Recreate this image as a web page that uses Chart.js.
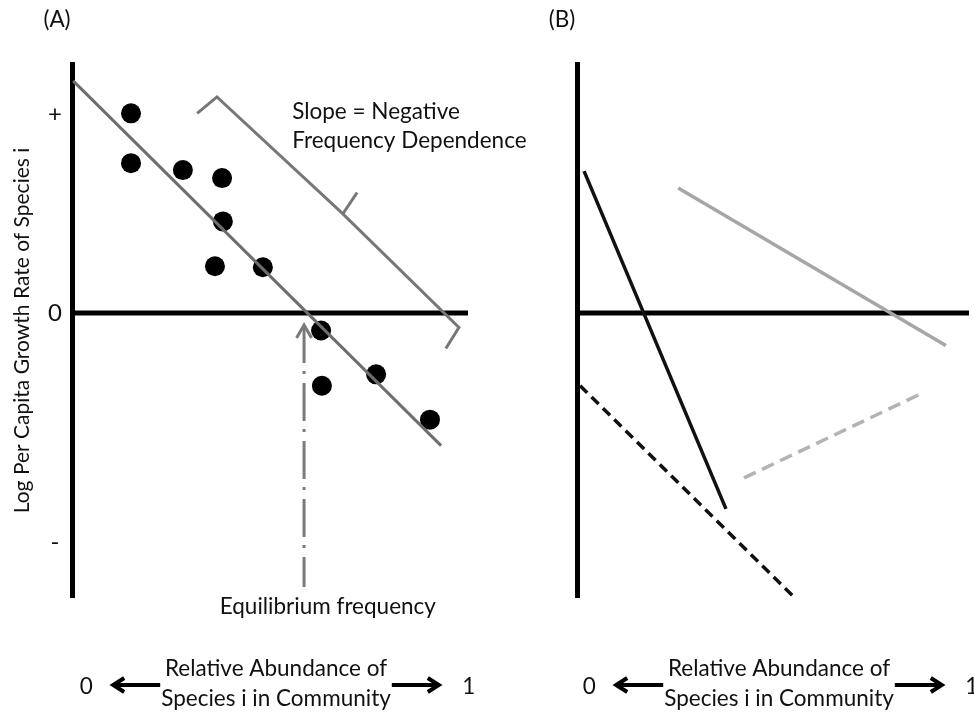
<!DOCTYPE html>
<html>
<head>
<meta charset="utf-8">
<script src="https://cdn.jsdelivr.net/npm/chart.js@4.4.1/dist/chart.umd.min.js"></script>
<style>
  html, body { margin: 0; padding: 0; background: #fff; }
  #wrap { position: relative; width: 974px; height: 714px; }
  #wrap canvas { position: absolute; left: 0; top: 0; }
</style>
</head>
<body>
<div id="wrap">
  <canvas id="chartA" width="974" height="714"></canvas>
  <canvas id="chartB" width="974" height="714"></canvas>
</div>
<script>
// ---- panel A: growth rate of species i against its relative abundance ----
var abundance = [1.49, 1.49, 2.80, 3.79, 3.81, 3.61, 4.82, 6.29, 6.31, 7.68, 9.04];
var growth    = [4.01, 3.01, 2.87, 2.71, 1.84, 0.94, 0.92, -0.35, -1.46, -1.23, -2.14];
var fitX = [0.03, 9.32];
var fitY = [4.66, -2.66];
// bracket along the fitted slope, plus its notch
var braceX = [3.16, 3.66, 6.72, 6.84, 9.77, 9.44];
var braceY = [4.01, 4.34, 2.08, 1.99, -0.29, -0.71];
var notchX = [6.84, 7.20];
var notchY = [1.99, 2.42];
// equilibrium frequency arrow (tip first so the dash pattern starts there)
var equilX = [5.86, 5.86];
var equilY = [-0.24, -5.50];
var headX = [5.67, 5.86, 6.05];
var headY = [-0.50, -0.24, -0.50];

// ---- panel B: four hypothetical species ----
var steepX = [0.18, 3.80],    steepY = [2.85, -3.93];
var shallowX = [2.58, 9.41],  shallowY = [2.51, -0.65];
var weakX = [0.08, 5.51],     weakY = [-1.46, -5.68];
var risingX = [4.26, 8.72],   risingY = [-3.31, -1.64];

// axes
var zeroX = [0, 10], zeroY = [0, 0];
var yTickValues = [4, 0, -4.6];
var yTickLabels = ['+', '0', '-'];
var xEndLabels = ['0', '1'];
var xTitle = ['Relative Abundance of', 'Species i in Community'];
var yTitle = 'Log Per Capita Growth Rate of Species i';

var FONT = 'Lato';
var TEXT_SIZE = 22.5;
Chart.defaults.font.family = FONT;
Chart.defaults.color = '#111';

function pts(xs, ys) {
  return xs.map(function(x, i) { return {x: x, y: ys[i]}; });
}

function line(data, color, width, dash) {
  return {
    data: data, showLine: true, fill: false, tension: 0,
    borderColor: color, borderWidth: width, borderDash: dash || [],
    borderJoinStyle: 'miter', pointRadius: 0
  };
}

// panel letter, free labels, and the "0 <- x title -> 1" group under each panel
var notes = {
  id: 'notes',
  afterDraw: function(chart, args, opts) {
    var ctx = chart.ctx, xs = chart.scales.x, ys = chart.scales.y, area = chart.chartArea;
    ctx.save();
    ctx.fillStyle = '#111';
    ctx.textBaseline = 'middle';
    ctx.font = TEXT_SIZE + 'px ' + FONT;

    ctx.textAlign = 'center';
    ctx.fillText(opts.letter, area.left - 15, 20);

    (opts.labels || []).forEach(function(l) {
      ctx.textAlign = l.align;
      ctx.fillText(l.text, xs.getPixelForValue(l.x), ys.getPixelForValue(l.y));
    });

    // x title sits a little right of the plot centre, arrows hug it
    var cx = (xs.left + xs.right) / 2 + 6;
    ctx.textAlign = 'center';
    xTitle.forEach(function(t, i) { ctx.fillText(t, cx, xs.bottom - 45 + i * 30); });
    var w = Math.max.apply(null, xTitle.map(function(t) { return ctx.measureText(t).width; }));
    var y = xs.bottom - 29;
    var leftTip = cx - w / 2 - 1 - 47;
    var rightTip = cx + w / 2 + 1 + 47;
    ctx.strokeStyle = '#000';
    ctx.lineWidth = 4;
    ctx.lineJoin = 'miter';
    [[leftTip, 1], [rightTip, -1]].forEach(function(a) {
      var tip = a[0], dir = a[1];
      ctx.beginPath();
      ctx.moveTo(tip + dir * 2, y);
      ctx.lineTo(tip + dir * 47, y);
      ctx.stroke();
      ctx.beginPath();
      ctx.moveTo(tip + dir * 11, y - 7);
      ctx.lineTo(tip, y);
      ctx.lineTo(tip + dir * 11, y + 7);
      ctx.stroke();
    });
    ctx.fillText(xEndLabels[0], leftTip - 27, y + 2);
    ctx.fillText(xEndLabels[1], rightTip + 30, y + 2);
    ctx.restore();
  }
};

function scales(withLabels) {
  return {
    x: {
      type: 'linear', min: 0, max: 10,
      ticks: { display: false },
      grid: { display: false },
      border: { display: false },
      afterFit: function(s) { s.height = 117; }
    },
    y: {
      type: 'linear', min: -5.7, max: 5,
      afterBuildTicks: function(s) {
        s.ticks = yTickValues.map(function(v) { return {value: v}; });
      },
      ticks: {
        display: withLabels, crossAlign: 'center', padding: 10, color: '#111',
        font: { size: 24 },
        callback: function(v) { return yTickLabels[yTickValues.indexOf(v)]; }
      },
      grid: { display: false, drawTicks: false },
      border: { display: true, color: '#000', width: 5 },
      title: { display: withLabels, text: yTitle, color: '#111',
               font: { size: 21 }, padding: { top: 10 } },
      afterFit: function(s) { s.width = 72; }
    }
  };
}

function baseOptions(padding, notesOpts, withLabels) {
  return {
    responsive: false,
    animation: false,
    events: [],
    layout: { padding: padding },
    scales: scales(withLabels),
    plugins: {
      legend: { display: false },
      tooltip: { enabled: false },
      notes: notesOpts
    }
  };
}

new Chart(document.getElementById('chartA'), {
  type: 'scatter',
  data: {
    datasets: [
      line(pts(fitX, fitY), '#6e6e6e', 3),
      { data: pts(abundance, growth), pointRadius: 10, pointBackgroundColor: '#000',
        pointBorderWidth: 0, showLine: false },
      line(pts(braceX, braceY), '#777777', 3),
      line(pts(notchX, notchY), '#777777', 3),
      line(pts(equilX, equilY), '#7a7a7a', 3, [38, 8, 3, 9]),
      line(pts(headX, headY), '#7a7a7a', 3),
      line(pts(zeroX, zeroY), '#000', 5)
    ]
  },
  options: baseOptions({ left: 0, right: 506, top: 64, bottom: 0 }, {
    letter: '(A)',
    labels: [
      { text: 'Slope = Negative', x: 5.56, y: 4.05, align: 'left' },
      { text: 'Frequency Dependence', x: 5.56, y: 3.45, align: 'left' },
      { text: 'Equilibrium frequency', x: 6.46, y: -5.90, align: 'center' }
    ]
  }, true),
  plugins: [notes]
});

new Chart(document.getElementById('chartB'), {
  type: 'scatter',
  data: {
    datasets: [
      line(pts(steepX, steepY), '#111', 3.5),
      line(pts(shallowX, shallowY), '#a6a6a6', 3.5),
      line(pts(weakX, weakY), '#111', 3.5, [10, 6]),
      line(pts(risingX, risingY), '#b3b3b3', 3.5, [13, 7]),
      line(pts(zeroX, zeroY), '#000', 5)
    ]
  },
  options: baseOptions({ left: 505, right: 5, top: 64, bottom: 0 }, {
    letter: '(B)',
    labels: []
  }, false),
  plugins: [notes]
});
</script>
</body>
</html>
